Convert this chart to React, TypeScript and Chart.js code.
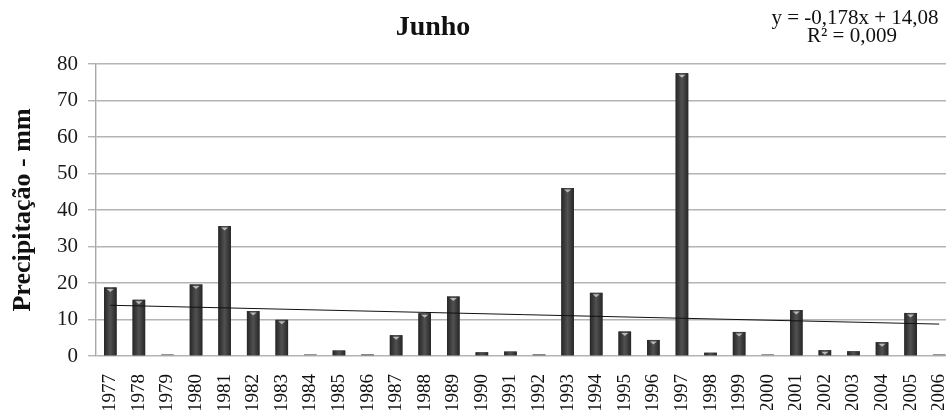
import React, { useEffect, useRef } from "react";
import { Chart, registerables } from "chart.js";

Chart.register(...registerables);

const years = ["1977","1978","1979","1980","1981","1982","1983","1984","1985","1986","1987","1988","1989","1990","1991","1992","1993","1994","1995","1996","1997","1998","1999","2000","2001","2002","2003","2004","2005","2006"];
const precipitation = [18.8,15.4,0.2,19.6,35.6,12.3,9.9,0.2,1.5,0.5,5.7,11.7,16.3,1.0,1.2,0.5,46.0,17.3,6.7,4.4,77.5,0.9,6.6,0.2,12.6,1.6,1.3,3.8,11.8,0.2];
const trendStart = 13.9;
const trendEnd = 8.74;
const yTicks = [0,10,20,30,40,50,60,70,80];
const chartTitle = "Junho";
const yTitle = "Precipitação - mm";
const equationLines = ["y = -0,178x + 14,08", "R² = 0,009"];

const SERIF = "'Liberation Serif', 'Times New Roman', serif";

const decorPlugin = {
  id: "decor",
  afterDatasetDraw(chart: any, args: any) {
    if (args.index !== 0) return;
    const ctx = chart.ctx;
    const meta = chart.getDatasetMeta(0);
    ctx.save();
    meta.data.forEach((el: any) => {
      const { x, y, base, width } = el.getProps(["x", "y", "base", "width"], true);
      const h = Math.max(base - y, 1.2);
      const top = base - h;
      const g = ctx.createLinearGradient(x - width / 2, 0, x + width / 2, 0);
      g.addColorStop(0, "#262626");
      g.addColorStop(0.5, "#515151");
      g.addColorStop(1, "#262626");
      ctx.fillStyle = h < 2 ? "#8a8a8a" : g;
      ctx.fillRect(x - width / 2, top, width, h);
      if (h > 5) {
        ctx.fillStyle = "#b8b8b8";
        ctx.beginPath();
        ctx.moveTo(x - 3.5, top + 1.5);
        ctx.lineTo(x + 3.5, top + 1.5);
        ctx.lineTo(x, top + 4.5);
        ctx.closePath();
        ctx.fill();
      }
    });
    ctx.restore();
  },
  afterDraw(chart: any) {
    const ctx = chart.ctx;
    ctx.save();
    ctx.fillStyle = "#111";
    ctx.textAlign = "center";
    ctx.textBaseline = "alphabetic";
    ctx.font = "bold 28px " + SERIF;
    ctx.fillText(chartTitle, 433, 35);
    ctx.font = "21px " + SERIF;
    ctx.fillText(equationLines[0], 855, 24);
    ctx.fillText(equationLines[1], 852, 42);
    ctx.restore();
  },
};

export default function App() {
  const ref = useRef<HTMLCanvasElement | null>(null);
  useEffect(() => {
    if (!ref.current) return;
    const last = years.length - 1;
    const trend = years.map((_, i) => (i === 0 ? trendStart : i === last ? trendEnd : null));
    const chart = new Chart(ref.current, {
      type: "bar",
      data: {
        labels: years,
        datasets: [
          {
            type: "bar",
            data: precipitation,
            backgroundColor: "#3a3a3a",
            barPercentage: 0.44,
            categoryPercentage: 1,
            order: 1,
          },
          {
            type: "line",
            data: trend as any,
            borderColor: "#111",
            borderWidth: 1,
            pointRadius: 0,
            spanGaps: true,
            order: 0,
          } as any,
        ],
      },
      options: {
        animation: false,
        responsive: false,
        maintainAspectRatio: false,
        layout: { padding: { top: 64, left: 0, right: 0, bottom: 0 } },
        plugins: { legend: { display: false }, tooltip: { enabled: false } },
        scales: {
          x: {
            grid: { display: false },
            border: { display: false },
            ticks: {
              autoSkip: false,
              minRotation: 90,
              maxRotation: 90,
              padding: 10,
              color: "#111",
              font: { family: SERIF, size: 19 },
            },
            afterFit(scale: any) {
              scale.height = 54;
            },
          },
          y: {
            min: 0,
            max: 80,
            afterBuildTicks(scale: any) {
              scale.ticks = yTicks.map((v) => ({ value: v }));
            },
            grid: { color: "#b4b4b4", lineWidth: 1.4, tickLength: 8 },
            border: { color: "#a8a8a8", width: 1.4 },
            ticks: {
              padding: 10,
              color: "#1a1a1a",
              font: { family: SERIF, size: 21 },
            },
            title: {
              display: true,
              text: yTitle,
              color: "#111",
              padding: { top: 8, bottom: 0 },
              font: { family: SERIF, size: 26, weight: "bold" },
            },
            afterFit(scale: any) {
              scale.width = 96;
            },
          },
        },
      },
      plugins: [decorPlugin],
    });
    return () => chart.destroy();
  }, []);
  return (
    <div style={{ position: "fixed", left: 0, top: 0, width: 946, height: 410, overflow: "hidden", background: "#fff" }}>
      <canvas ref={ref} width={972} height={410} style={{ width: 972, height: 410, display: "block" }} />
    </div>
  );
}
